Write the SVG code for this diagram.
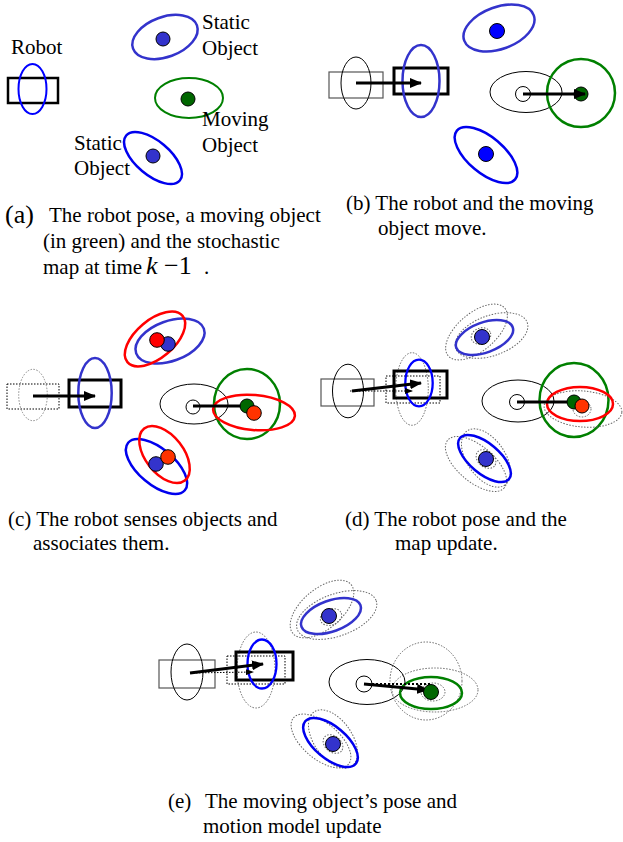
<svg xmlns="http://www.w3.org/2000/svg" width="623" height="842" viewBox="0 0 623 842" font-family="'Liberation Serif', 'Times New Roman', 'DejaVu Serif', serif">
<defs>
<style>
text{font-family:'Liberation Serif','Times New Roman','DejaVu Serif',serif;font-size:21px;fill:#000}
.big{font-size:26px}
.math{font-size:26px}
.thin{fill:none;stroke:#000;stroke-width:1}
.oldr{fill:none;stroke:#555;stroke-width:1.2}
.thick{fill:none;stroke:#000;stroke-width:3}
.dot{fill:none;stroke:#666;stroke-width:1;stroke-dasharray:1.5 1.5}
.dotk{fill:none;stroke:#000;stroke-width:1;stroke-dasharray:1.5 1.5}
.pb{fill:none;stroke:#3333cc;stroke-width:2.5}
.bb{fill:none;stroke:#0000ee;stroke-width:2.5}
.rb{fill:none;stroke:#0000ff;stroke-width:2.3}
.ge{fill:none;stroke:#008000;stroke-width:2.5}
.re{fill:none;stroke:#ff0000;stroke-width:2.5}
.dp{fill:#3333cc;stroke:#000;stroke-width:1}
.db{fill:#0000ff;stroke:#000;stroke-width:1}
.dg{fill:#006600;stroke:#000;stroke-width:1}
.dr{fill:#ff0000;stroke:#000;stroke-width:1}
.do{fill:#ff3300;stroke:#000;stroke-width:1}
.wc{fill:#fff;stroke:#000;stroke-width:1}
.arr{fill:none;stroke:#000;stroke-width:3;marker-end:url(#ah)}
.ln{fill:none;stroke:#000;stroke-width:3}
.darr{fill:none;stroke:#000;stroke-width:1;stroke-dasharray:1.5 1.5;marker-end:url(#sah)}
</style>
<marker id="ah" markerUnits="userSpaceOnUse" markerWidth="12" markerHeight="10" refX="11" refY="5" orient="auto"><path d="M0,0 L12,5 L0,10 z" fill="#000"/></marker>
<marker id="sah" markerUnits="userSpaceOnUse" markerWidth="8" markerHeight="6" refX="7" refY="3" orient="auto"><path d="M0,0 L8,3 L0,6 z" fill="#000"/></marker>
</defs>

<!-- Panel (a) -->
<g id="panel-a">
<g id="a-robot">
<rect x="8" y="78" width="50" height="25" class="thick" style="stroke-width:2.5"/>
<ellipse cx="32.5" cy="89" rx="14" ry="25" class="rb" style="stroke-width:2"/>
<text x="11" y="54">Robot</text>
</g>
<g id="a-static-top">
<ellipse cx="165" cy="37" rx="34" ry="20" class="pb" transform="rotate(-20 165 37)"/>
<circle cx="163" cy="39" r="7" class="dp"/>
<text x="202" y="29">Static</text>
<text x="202" y="55">Object</text>
</g>
<g id="a-moving">
<ellipse cx="189" cy="98" rx="34" ry="20" class="ge" style="stroke-width:2"/>
<circle cx="188" cy="99" r="7" class="dg"/>
<text x="202" y="126">Moving</text>
<text x="202" y="152">Object</text>
</g>
<g id="a-static-bottom">
<ellipse cx="153" cy="158" rx="35" ry="17" class="bb" transform="rotate(40 153 158)"/>
<circle cx="153" cy="156" r="7" class="dp"/>
<text x="74" y="150">Static</text>
<text x="74" y="175">Object</text>
</g>
<g id="a-caption">
<text x="5" y="223" class="big">(a)</text>
<text x="49" y="222">The robot pose, a moving object</text>
<text x="43" y="248">(in green) and the stochastic</text>
<text x="43" y="274">map at time</text>
<text x="146" y="274" class="math" font-style="italic">k</text>
<text x="164" y="274" class="math">−1</text>
<text x="204" y="274">.</text>
</g>
</g>

<!-- Panel (b) -->
<g id="panel-b">
<g id="b-robot-old">
<rect x="329" y="72" width="54" height="26" class="oldr"/>
<ellipse cx="356" cy="83" rx="15" ry="26" class="thin"/>
</g>
<g id="b-robot-new">
<rect x="394" y="68" width="54" height="26" class="thick"/>
<ellipse cx="421" cy="81" rx="18.5" ry="36" class="pb"/>
</g>
<g id="b-static-top">
<ellipse cx="499" cy="28" rx="37" ry="21" class="pb" transform="rotate(-20 499 28)"/>
<circle cx="497" cy="31" r="7.5" class="db"/>
</g>
<g id="b-static-bottom">
<ellipse cx="486" cy="155" rx="38" ry="18" class="bb" transform="rotate(40 486 155)"/>
<circle cx="486" cy="154" r="7.5" class="db"/>
</g>
<g id="b-moving-old">
<ellipse cx="526" cy="92" rx="36" ry="20.5" class="thin"/>
<circle cx="523" cy="94" r="7.5" class="wc"/>
</g>
<g id="b-moving-new">
<circle cx="581" cy="93" r="34" class="ge"/>
<circle cx="581" cy="94" r="7" class="dg"/>
</g>
<g id="b-connectors">
<line x1="356" y1="83" x2="421" y2="83" class="arr"/>
<line x1="523" y1="94" x2="585" y2="94" class="arr"/>
</g>
<g id="b-caption">
<text x="346" y="210">(b) The robot and the moving</text>
<text x="378" y="235">object move.</text>
</g>
</g>

<!-- Panel (c) -->
<g id="panel-c">
<g id="c-robot-old">
<rect x="7" y="384" width="52" height="25" class="dotk"/>
<ellipse cx="33" cy="395" rx="14.3" ry="25.7" class="dot" style="stroke:#888"/>
</g>
<g id="c-robot-new">
<rect x="69" y="380" width="52" height="27" class="thick"/>
<ellipse cx="95" cy="393" rx="16.7" ry="35" class="pb"/>
</g>
<g id="c-static-top">
<ellipse cx="170" cy="341" rx="36" ry="20" class="pb" transform="rotate(-20 170 341)"/>
<ellipse cx="155" cy="339" rx="36" ry="19" class="re" transform="rotate(-40 155 339)"/>
<circle cx="168" cy="344" r="7.3" class="dp"/>
<circle cx="157" cy="340" r="7.3" class="dr"/>
</g>
<g id="c-static-bottom">
<ellipse cx="156.5" cy="466.5" rx="37" ry="18" class="bb" transform="rotate(40 156.5 466.5)"/>
<ellipse cx="164.5" cy="454.5" rx="33" ry="19" class="re" transform="rotate(52 164.5 454.5)"/>
<circle cx="156" cy="464" r="7.3" class="dp"/>
<circle cx="168" cy="457" r="7.3" class="do"/>
</g>
<g id="c-moving-old">
<ellipse cx="194" cy="404" rx="34" ry="20" class="thin"/>
<circle cx="193" cy="407" r="7" class="wc"/>
</g>
<g id="c-moving-new">
<ellipse cx="247" cy="404" rx="33" ry="35" class="ge"/>
<ellipse cx="254" cy="412.5" rx="41" ry="17.5" class="re" transform="rotate(5 254 412.5)"/>
</g>
<g id="c-connectors">
<line x1="33" y1="396" x2="95" y2="396" class="arr"/>
<line x1="193" y1="406" x2="247" y2="406" class="ln"/>
</g>
<g id="c-moving-dots">
<circle cx="247" cy="406" r="7" class="dg"/>
<circle cx="254" cy="413" r="7.3" class="do"/>
</g>
<g id="c-caption">
<text x="8" y="526">(c) The robot senses objects and</text>
<text x="33" y="550">associates them.</text>
</g>
</g>

<!-- Panel (d) -->
<g id="panel-d">
<g id="d-robot-old">
<rect x="321" y="379" width="53" height="27" class="oldr"/>
<ellipse cx="348" cy="391" rx="15.5" ry="26.8" class="thin"/>
</g>
<g id="d-robot-new">
<ellipse cx="412" cy="389" rx="16.3" ry="36.3" class="dot"/>
<rect x="386" y="376" width="54" height="27" class="dotk"/>
<rect x="394" y="371" width="53" height="27" class="thick"/>
<ellipse cx="419" cy="383" rx="13.7" ry="23.3" class="rb"/>
</g>
<g id="d-static-top">
<ellipse cx="476.5" cy="332" rx="37" ry="19" class="dot" transform="rotate(-40 476.5 332)"/>
<ellipse cx="491.5" cy="335.5" rx="38" ry="20" class="dot" transform="rotate(-20 491.5 335.5)"/>
<ellipse cx="484.5" cy="337.5" rx="30" ry="15" class="pb" transform="rotate(-20 484.5 337.5)"/>
<ellipse cx="481" cy="336" rx="10" ry="8" class="dot" transform="rotate(-20 481 336)"/>
<circle cx="482" cy="337" r="7.5" class="dp"/>
</g>
<g id="d-static-bottom">
<ellipse cx="476" cy="464" rx="37" ry="18" class="dot" transform="rotate(40 476 464)"/>
<ellipse cx="486" cy="458" rx="33" ry="19" class="dot" transform="rotate(55 486 458)"/>
<ellipse cx="484.5" cy="458.5" rx="32" ry="15" class="bb" transform="rotate(40 484.5 458.5)"/>
<ellipse cx="486" cy="459" rx="11" ry="8" class="dot" transform="rotate(40 486 459)"/>
<circle cx="486" cy="459" r="7.5" class="dp"/>
</g>
<g id="d-moving-old">
<ellipse cx="518" cy="401" rx="36" ry="21" class="thin"/>
<circle cx="517" cy="402" r="7.5" class="wc"/>
</g>
<g id="d-moving-new">
<ellipse cx="574" cy="400" rx="34.5" ry="37" class="ge"/>
<ellipse cx="583" cy="409" rx="39" ry="18" class="dot" transform="rotate(5 583 409)"/>
<ellipse cx="580" cy="404" rx="33" ry="17" class="re"/>
<ellipse cx="582" cy="409" rx="9" ry="8" class="dot"/>
</g>
<g id="d-connectors">
<line x1="350" y1="391" x2="412" y2="391" class="darr"/>
<line x1="352" y1="391" x2="421" y2="383" class="arr"/>
<line x1="517" y1="402" x2="573" y2="402" class="ln"/>
</g>
<g id="d-moving-dots">
<circle cx="574" cy="402" r="7" class="dg"/>
<circle cx="582" cy="406" r="7" class="do"/>
</g>
<g id="d-caption">
<text x="345" y="526">(d) The robot pose and the</text>
<text x="395" y="550">map update.</text>
</g>
</g>

<!-- Panel (e) -->
<g id="panel-e">
<g id="e-robot-old">
<rect x="159" y="660" width="56" height="28" class="oldr"/>
<ellipse cx="187" cy="672" rx="16" ry="28" class="thin"/>
</g>
<g id="e-robot-new">
<ellipse cx="256" cy="670" rx="19" ry="38" class="dot"/>
<rect x="227" y="656" width="58" height="28" class="dotk"/>
<rect x="236" y="652" width="57" height="28" class="thick"/>
<ellipse cx="262" cy="664" rx="14.5" ry="24.5" class="rb"/>
</g>
<g id="e-static-top">
<ellipse cx="322" cy="609" rx="38" ry="20" class="dot" transform="rotate(-40 322 609)"/>
<ellipse cx="336.7" cy="615" rx="42" ry="21" class="dot" transform="rotate(-20 336.7 615)"/>
<ellipse cx="331" cy="616" rx="31.4" ry="15.4" class="pb" transform="rotate(-20 331 616)"/>
<ellipse cx="331" cy="617" rx="11" ry="8" class="dot" transform="rotate(-20 331 617)"/>
<circle cx="329" cy="616" r="7.5" class="dp"/>
</g>
<g id="e-static-bottom">
<ellipse cx="321" cy="741" rx="36" ry="18" class="dot" transform="rotate(40 321 741)"/>
<ellipse cx="333" cy="739" rx="33" ry="19" class="dot" transform="rotate(55 333 739)"/>
<ellipse cx="330.5" cy="742.5" rx="33" ry="16" class="bb" transform="rotate(40 330.5 742.5)"/>
<ellipse cx="333" cy="744" rx="11" ry="8" class="dot" transform="rotate(40 333 744)"/>
<circle cx="333" cy="744" r="7.5" class="dp"/>
</g>
<g id="e-moving-old">
<ellipse cx="367" cy="682" rx="38" ry="22.5" class="thin"/>
<circle cx="364" cy="684" r="8" class="wc"/>
</g>
<g id="e-moving-new">
<ellipse cx="426" cy="681" rx="36" ry="39" class="dot"/>
<ellipse cx="435" cy="690" rx="43" ry="22" class="dot"/>
<ellipse cx="431" cy="693" rx="31" ry="16" class="ge"/>
<ellipse cx="433" cy="692" rx="12" ry="9" class="dot"/>
</g>
<g id="e-connectors">
<line x1="190" y1="673" x2="253" y2="672" class="darr"/>
<line x1="190" y1="673" x2="263" y2="664" class="arr"/>
<line x1="364" y1="684" x2="430" y2="684" style="fill:none;stroke:#000;stroke-width:2;stroke-dasharray:2 2"/>
<line x1="364" y1="684" x2="428" y2="690" class="arr"/>
</g>
<g id="e-moving-dots">
<circle cx="431" cy="692" r="7.5" class="dg"/>
</g>
<g id="e-caption">
<text x="168" y="808">(e)</text>
<text x="205" y="808">The moving object’s pose and</text>
<text x="203" y="833">motion model update</text>
</g>
</g>
</svg>
